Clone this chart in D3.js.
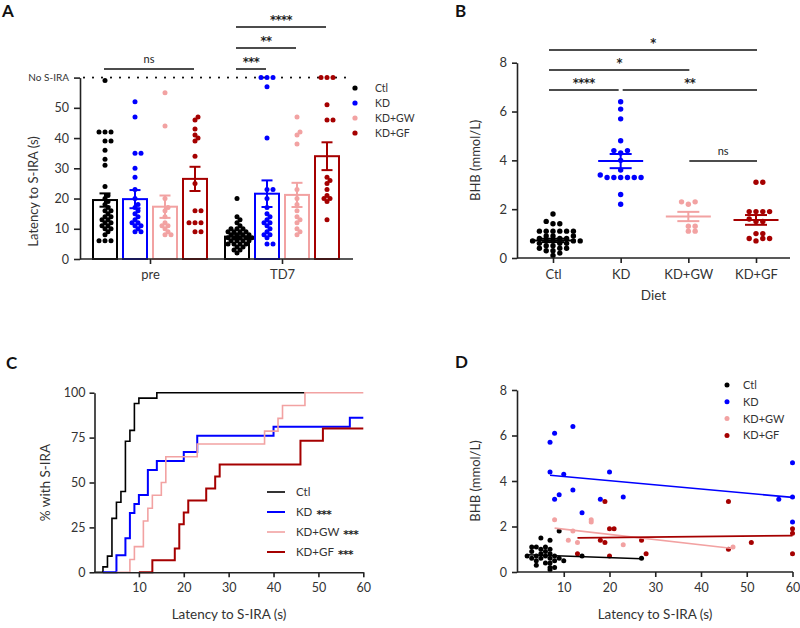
<!DOCTYPE html>
<html><head><meta charset="utf-8">
<script src="https://cdn.jsdelivr.net/npm/d3@7"></script>
<style>
body{margin:0;background:#fff;}
svg{display:block;font-family:Lato,"Open Sans",sans-serif;}
</style></head><body>
<svg id="c" width="800" height="628"></svg>
<script>
// ---------- shared ----------
const diets = ["Ctl", "KD", "KD+GW", "KD+GF"];
const dietColors = ["#000000", "#0000ff", "#f2a2a2", "#a50000"];
const timepoints = ["pre", "TD7"];

// ---------- Panel A : latency to S-IRA (s) ----------
const latPre_Ctl = [59,42,42,42,39,39,36,33,31,24,21,20,19,18,17,16,16,15,14,14,13,13,12,12,11,11,10,10,9,8,6,6,6];
const latPre_KD = [52,47,35,35,30,27,23,20,18,17,16,15,14,13,12,12,11,11,10,9,9];
const latPre_GW = [55,44,20,17,16,14,12,11,11,10,9,8,8];
const latPre_GF = [47,46,43,41,40,39,34,25,16,16,12,12,12,9,9];
const latTD7_Ctl = [20,14,13,12,11,10,10,10,9,9,9,9,8,8,8,8,7,7,7,7,7,6,6,6,6,5,5,5,5,4,4,3,3,2];
const latTD7_KD = [60,60,60,57,40,23,23,20,17,15,14,13,12,12,11,10,9,8,8,7,5,5];
const latTD7_GW = [47,42,41,38,23,20,18,16,14,13,12,10,9,8];
const latTD7_GF = [60,60,60,51,46,46,27,26,25,23,21,20,20,19,13];
const meanPre = [19.5, 19.8, 17.3, 26.5];
const semPre = [2.2, 3.0, 3.7, 4.0];
const meanTD7 = [7.4, 21.6, 21.2, 34.0];
const semTD7 = [0.9, 4.4, 4.0, 4.6];
const yTicksA = [0, 10, 20, 30, 40, 50, 60];
const noSiraLabel = "No S-IRA";
const sigA = [
  {tp: "pre", from: "Ctl", to: "KD+GF", label: "ns", level: 0},
  {tp: "TD7", from: "Ctl", to: "KD", label: "***", level: 0},
  {tp: "TD7", from: "Ctl", to: "KD+GW", label: "**", level: 1},
  {tp: "TD7", from: "Ctl", to: "KD+GF", label: "****", level: 2}
];

// ---------- Panel B : BHB (mmol/L) ----------
const bhb_Ctl = [1.8,1.5,1.4,1.4,1.1,1.1,1.1,1.1,1.1,1.1,0.9,0.9,0.9,0.8,0.8,0.8,0.7,0.7,0.7,0.7,0.7,0.6,0.6,0.6,0.5,0.5,0.4,0.4,0.4,0.3,0.3,0.2,0.1];
const bhb_KD = [6.4,6.1,5.7,4.8,4.4,4.4,4.3,4.0,3.6,3.4,3.3,3.3,3.3,3.3,3.3,3.3,2.6,2.2];
const bhb_GW = [2.3,2.3,2.2,1.3,1.3,1.1,1.1];
const bhb_GF = [3.1,3.1,1.9,1.9,1.9,1.9,1.6,1.5,1.5,1.0,1.0,0.8,0.8,0.8,0.7];
const bhbMean = [0.72, 3.97, 1.70, 1.56];
const bhbSem = [0.07, 0.29, 0.19, 0.20];
const yTicksB = [0, 2, 4, 6, 8];
const sigB = [
  {from: "Ctl", to: "KD+GF", label: "*", level: 3},
  {from: "Ctl", to: "KD+GW", label: "*", level: 2},
  {from: "Ctl", to: "KD", label: "****", level: 1},
  {from: "KD", to: "KD+GF", label: "**", level: 1},
  {from: "KD+GW", to: "KD+GF", label: "ns", level: 0}
];

// ---------- Panel C : cumulative % with S-IRA ----------
const kmStart = [0, 2, 5, 10];
const kmEnd = [47, 60, 60, 60];
const kmCtl_t = [2,3,4,5,6,7,8,9,10,14];
const kmCtl_p = [3,9,30,39,45,73,79,94,97,100];
const kmKD_t = [5,7,8,9,10,12,14,20,23,40,57];
const kmKD_p = [9.5,19,33,38,43,57,62,67,76,81,86];
const kmGW_t = [8,9,11,12,13,15,16,23,38,41,42,47];
const kmGW_p = [7.1,14.3,28.6,35.7,42.9,50,64.3,71.4,78.6,85.7,92.9,100];
const kmGF_t = [13,18,19,20,21,25,27,28,46,51];
const kmGF_p = [6.7,13.3,26.7,33.3,40,46.7,53.3,60,73.3,80];
const kmLegend = ["Ctl", "KD", "KD+GW", "KD+GF"];
const kmLegendSig = ["", "***", "***", "***"];
const xTicksC = [10, 20, 30, 40, 50, 60];
const yTicksC = [0, 25, 50, 75, 100];

// ---------- Panel D : BHB vs latency ----------
const sc_Ctl = [[2,0.7],[3,1.1],[4,1.1],[5,1.5],[7,1.4],[9,1.8],[3,0.9],[4,0.7],[4,0.5],[4,0.3],[5,0.8],[5,0.6],[5,1.0],[6,0.7],[6,0.9],[6,0.4],[6,1.1],[7,0.8],[7,0.6],[7,0.4],[7,1.0],[7,0.2],[8,0.7],[8,0.5],[8,0.2],[9,0.6],[10,0.5],[14,0.7],[27,0.6],[7,0.1],[3,0.6]];
const sc_KD = [[7,5.7],[8,6.1],[12,6.4],[7,4.4],[10,4.3],[20,4.4],[60,4.8],[12,3.6],[9,3.4],[8,3.2],[18,3.2],[23,3.3],[57,3.2],[60,3.3],[14,2.6],[60,2.2]];
const sc_GW = [[8,2.3],[16,2.3],[16,2.2],[12,1.8],[11,1.4],[13,1.3],[23,1.2],[47,1.1]];
const sc_GF = [[19,3.1],[46,3.1],[20,1.9],[21,1.9],[60,1.9],[60,1.7],[18,1.4],[19,1.3],[27,1.4],[51,1.3],[13,0.8],[20,0.7],[28,0.8],[46,1.0],[60,0.8]];
const fitD = [[2,0.76,27,0.58],[7,4.25,60,3.28],[8,1.93,47,1.03],[13,1.5,60,1.6]];
const xTicksD = [10, 20, 30, 40, 50, 60];
const yTicksD = [0, 2, 4, 6, 8];

// ================= drawing =================
const svg = d3.select("#c");
const AX = "#222", TX = "#333";
const STAR_FONT = "'DejaVu Sans', sans-serif";

function styleAxis(g, fs) {
  g.selectAll("path,line").attr("stroke", AX).attr("stroke-width", 1.6);
  g.selectAll("text").attr("fill", TX).style("font-size", fs + "px").style("font-family", "Lato, 'Open Sans', sans-serif");
}
function swarm(vals, cx, y, r, step, overlap) {
  const pts = vals.map(v => ({v, y: y(v)})).sort((a, b) => a.v - b.v);
  const placed = [];
  const minD = 2 * r * overlap;
  pts.forEach(p => {
    p.x = cx;
    for (let i = 0; i < 80; i++) {
      const o = i === 0 ? 0 : (i % 2 ? 1 : -1) * Math.ceil(i / 2) * step;
      const x = cx + o;
      if (placed.every(q => Math.hypot(q.x - x, q.y - p.y) >= minD)) { p.x = x; break; }
    }
    placed.push(p);
  });
  return placed;
}
function panelLabel(t, x, y) {
  svg.append("text").attr("x", x).attr("y", y).text(t)
    .style("font-size", "17px").style("font-weight", "bold").attr("fill", "#111");
}
function sigText(g, x, y, label) {
  const isNs = label === "ns";
  g.append("text").attr("x", x).attr("y", isNs ? y - 6 : y - 3).attr("text-anchor", "middle")
    .text(label)
    .style("font-family", isNs ? "Lato, sans-serif" : STAR_FONT)
    .style("font-size", isNs ? "11px" : "11.5px")
    .style("font-weight", isNs ? "normal" : "bold")
    .style("letter-spacing", isNs ? "0px" : "-0.5px")
    .attr("fill", "#222");
}

// ---------- Panel A ----------
{
  const g = svg.append("g");
  const xA = d3.scalePoint().domain(timepoints).range([84, 348]).padding(0.5);
  const xIn = d3.scaleBand().domain(diets).range([-60, 60]).paddingInner(0.2).paddingOuter(0.1);
  const yA = d3.scaleLinear().domain([0, 60]).range([259, 77.6]);
  const dataA = {pre: [latPre_Ctl, latPre_KD, latPre_GW, latPre_GF], TD7: [latTD7_Ctl, latTD7_KD, latTD7_GW, latTD7_GF]};
  const meansA = {pre: meanPre, TD7: meanTD7};
  const semsA = {pre: semPre, TD7: semTD7};

  g.append("line").attr("x1", 84).attr("x2", 352).attr("y1", yA(60)).attr("y2", yA(60))
    .attr("stroke", "#111").attr("stroke-width", 2.2).attr("stroke-dasharray", "0 9").attr("stroke-linecap", "round");

  timepoints.forEach(tp => {
    diets.forEach((d, i) => {
      const cx = xA(tp) + xIn(d) + xIn.bandwidth() / 2;
      const m = meansA[tp][i], s = semsA[tp][i];
      g.append("rect").attr("x", xA(tp) + xIn(d)).attr("width", xIn.bandwidth())
        .attr("y", yA(m)).attr("height", yA(0) - yA(m))
        .attr("fill", "none").attr("stroke", dietColors[i]).attr("stroke-width", 2);
      const pts = swarm(dataA[tp][i], cx, yA, 2.5, 3.0, 0.84);
      g.selectAll(null).data(pts).enter().append("circle")
        .attr("cx", p => p.x).attr("cy", p => p.y).attr("r", 2.5).attr("fill", dietColors[i]);
      g.append("line").attr("x1", cx).attr("x2", cx).attr("y1", yA(m - s)).attr("y2", yA(m + s))
        .attr("stroke", dietColors[i]).attr("stroke-width", 2);
      [m - s, m + s].forEach(v => g.append("line").attr("x1", cx - 5.5).attr("x2", cx + 5.5)
        .attr("y1", yA(v)).attr("y2", yA(v)).attr("stroke", dietColors[i]).attr("stroke-width", 2));
    });
  });

  const ya = g.append("g").attr("transform", "translate(80,0)")
    .call(d3.axisLeft(yA).tickValues(yTicksA).tickSize(6).tickPadding(5).tickSizeOuter(0)
      .tickFormat(v => v === 60 ? noSiraLabel : v));
  styleAxis(ya, 12.5);
  ya.selectAll(".tick").filter(v => v === 60).select("text").style("font-size", "10px");
  const xa = g.append("g").attr("transform", "translate(0,259)")
    .call(d3.axisBottom(xA).tickSize(5).tickPadding(6).tickSizeOuter(0));
  xa.select(".domain").remove();
  styleAxis(xa, 13);
  g.append("line").attr("x1", 80).attr("x2", 353).attr("y1", 259).attr("y2", 259).attr("stroke", AX).attr("stroke-width", 1.6);
  g.append("text").attr("transform", "translate(38," + ((yA(0) + yA(50)) / 2 + 8) + ") rotate(-90)")
    .attr("text-anchor", "middle").text("Latency to S-IRA (s)").style("font-size", "13px").attr("fill", TX);

  sigA.forEach(s => {
    const x1 = xA(s.tp) + xIn(s.from) + xIn.bandwidth() / 2 - 1;
    const x2 = xA(s.tp) + xIn(s.to) + xIn.bandwidth() / 2 - 1;
    const yy = yA(60) - 8.6 - s.level * 21;
    g.append("line").attr("x1", x1).attr("x2", x2).attr("y1", yy).attr("y2", yy).attr("stroke", "#111").attr("stroke-width", 1.5);
    sigText(g, (x1 + x2) / 2, yy, s.label);
  });

  diets.forEach((d, i) => {
    const yy = 88 + i * 15;
    g.append("circle").attr("cx", 355).attr("cy", yy).attr("r", 2.6).attr("fill", dietColors[i]);
    g.append("text").attr("x", 375).attr("y", yy + 4).text(d).style("font-size", "10.5px").attr("fill", TX);
  });
  panelLabel("A", 2, 17);
}

// ---------- Panel B ----------
{
  const g = svg.append("g");
  const xB = d3.scalePoint().domain(diets).range([553, 756]);
  const yB = d3.scaleLinear().domain([0, 8]).range([258, 62.7]);
  const dataB = [bhb_Ctl, bhb_KD, bhb_GW, bhb_GF];
  diets.forEach((d, i) => {
    const cx = xB(d);
    const pts = swarm(dataB[i], cx, yB, 2.7, 3.4, 0.88);
    g.selectAll(null).data(pts).enter().append("circle")
      .attr("cx", p => p.x).attr("cy", p => p.y).attr("r", 2.7).attr("fill", dietColors[i]);
    const m = bhbMean[i], s = bhbSem[i];
    g.append("line").attr("x1", cx - 22.5).attr("x2", cx + 22.5).attr("y1", yB(m)).attr("y2", yB(m)).attr("stroke", dietColors[i]).attr("stroke-width", 2);
    g.append("line").attr("x1", cx).attr("x2", cx).attr("y1", yB(m - s)).attr("y2", yB(m + s)).attr("stroke", dietColors[i]).attr("stroke-width", 2);
    [m - s, m + s].forEach(v => g.append("line").attr("x1", cx - 11).attr("x2", cx + 11)
      .attr("y1", yB(v)).attr("y2", yB(v)).attr("stroke", dietColors[i]).attr("stroke-width", 2));
  });
  const ya = g.append("g").attr("transform", "translate(517,0)")
    .call(d3.axisLeft(yB).tickValues(yTicksB).tickSize(5).tickPadding(5).tickSizeOuter(0));
  styleAxis(ya, 13);
  const xa = g.append("g").attr("transform", "translate(0,258)")
    .call(d3.axisBottom(xB).tickSize(5).tickPadding(7).tickSizeOuter(0));
  xa.select(".domain").remove();
  styleAxis(xa, 13);
  g.append("line").attr("x1", 517).attr("x2", 790).attr("y1", 258).attr("y2", 258).attr("stroke", AX).attr("stroke-width", 1.6);
  g.append("text").attr("transform", "translate(480," + yB(4) + ") rotate(-90)")
    .attr("text-anchor", "middle").text("BHB (mmol/L)").style("font-size", "13px").attr("fill", TX);
  g.append("text").attr("x", (517 + 790) / 2).attr("y", 300).attr("text-anchor", "middle")
    .text("Diet").style("font-size", "13.5px").attr("fill", TX);
  const levelY = [161, 90, 70, 50];
  sigB.forEach(s => {
    let x1 = xB(s.from) - 4, x2 = xB(s.to) + 1;
    if (s.from === "Ctl" && s.to === "KD") x2 = xB("KD") - 2;
    if (s.from === "KD") x1 = xB("KD") + 2;
    if (s.label === "ns") { x1 = xB(s.from) + 1; }
    const yy = levelY[s.level];
    g.append("line").attr("x1", x1).attr("x2", x2).attr("y1", yy).attr("y2", yy).attr("stroke", "#111").attr("stroke-width", 1.5);
    sigText(g, (x1 + x2) / 2, yy, s.label);
  });
  panelLabel("B", 455, 17);
}

// ---------- Panel C ----------
{
  const g = svg.append("g");
  const xC = d3.scaleLinear().domain([0, 60]).range([94, 363.3]);
  const yC = d3.scaleLinear().domain([0, 100]).range([572.3, 392.7]);
  const kmT = [kmCtl_t, kmKD_t, kmGW_t, kmGF_t];
  const kmP = [kmCtl_p, kmKD_p, kmGW_p, kmGF_p];
  const widths = [1.6, 2, 1.6, 2];
  const line = d3.line().x(d => xC(d[0])).y(d => yC(d[1])).curve(d3.curveStepAfter);
  diets.forEach((d, i) => {
    const pts = [[kmStart[i], 0]];
    kmT[i].forEach((t, j) => pts.push([t, kmP[i][j]]));
    pts.push([kmEnd[i], kmP[i][kmP[i].length - 1]]);
    g.append("path").attr("d", line(pts)).attr("fill", "none").attr("stroke", dietColors[i]).attr("stroke-width", widths[i]);
  });
  const ya = g.append("g").attr("transform", "translate(94.5,0)")
    .call(d3.axisLeft(yC).tickValues(yTicksC).tickSize(5).tickPadding(4).tickSizeOuter(0));
  styleAxis(ya, 12.5);
  const xa = g.append("g").attr("transform", "translate(0,572.3)")
    .call(d3.axisBottom(xC).tickValues(xTicksC).tickSize(5).tickPadding(6).tickSizeOuter(0));
  styleAxis(xa, 12.5);
  g.append("text").attr("transform", "translate(50," + yC(50) + ") rotate(-90)")
    .attr("text-anchor", "middle").text("% with S-IRA").style("font-size", "13.5px").attr("fill", TX);
  g.append("text").attr("x", 229).attr("y", 619).attr("text-anchor", "middle")
    .text("Latency to S-IRA (s)").style("font-size", "13.5px").attr("fill", TX);
  kmLegend.forEach((t, i) => {
    const yy = 492 + i * 20;
    g.append("line").attr("x1", 267).attr("x2", 285).attr("y1", yy).attr("y2", yy).attr("stroke", dietColors[i]).attr("stroke-width", widths[i]);
    const tx = g.append("text").attr("x", 296).attr("y", yy + 4).style("font-size", "11.5px").attr("fill", TX);
    tx.append("tspan").text(t);
    if (kmLegendSig[i]) tx.append("tspan").attr("dx", 4).attr("dy", 2).text(kmLegendSig[i])
      .style("font-family", STAR_FONT).style("font-weight", "bold").style("font-size", "10.5px").style("letter-spacing", "-0.5px").attr("fill", "#222");
  });
  panelLabel("C", 6, 369);
}

// ---------- Panel D ----------
{
  const g = svg.append("g");
  const xD = d3.scaleLinear().domain([0, 60]).range([518, 792.5]);
  const yD = d3.scaleLinear().domain([0, 8]).range([572, 390]);
  const sc = [sc_Ctl, sc_KD, sc_GW, sc_GF];
  const order = [2, 1, 3, 0];
  order.forEach(i => {
    g.selectAll(null).data(sc[i]).enter().append("circle")
      .attr("cx", p => xD(p[0])).attr("cy", p => yD(p[1])).attr("r", 2.5).attr("fill", dietColors[i]);
  });
  order.forEach(i => {
    const f = fitD[i];
    g.append("line").attr("x1", xD(f[0])).attr("y1", yD(f[1])).attr("x2", xD(f[2])).attr("y2", yD(f[3]))
      .attr("stroke", dietColors[i]).attr("stroke-width", 1.6);
  });
  const ya = g.append("g").attr("transform", "translate(517,0)")
    .call(d3.axisLeft(yD).tickValues(yTicksD).tickSize(5).tickPadding(5).tickSizeOuter(0));
  styleAxis(ya, 12.5);
  const xa = g.append("g").attr("transform", "translate(0,572)")
    .call(d3.axisBottom(xD).tickValues(xTicksD).tickSize(5).tickPadding(6).tickSizeOuter(0));
  xa.select(".domain").remove();
  styleAxis(xa, 12.5);
  g.append("line").attr("x1", 517).attr("x2", 793).attr("y1", 572).attr("y2", 572).attr("stroke", AX).attr("stroke-width", 1.6);
  g.append("text").attr("transform", "translate(480," + yD(4) + ") rotate(-90)")
    .attr("text-anchor", "middle").text("BHB (mmol/L)").style("font-size", "13px").attr("fill", TX);
  g.append("text").attr("x", 655).attr("y", 619).attr("text-anchor", "middle")
    .text("Latency to S-IRA (s)").style("font-size", "13.5px").attr("fill", TX);
  diets.forEach((d, i) => {
    const yy = 385 + i * 16.8;
    g.append("circle").attr("cx", 727).attr("cy", yy).attr("r", 2.5).attr("fill", dietColors[i]);
    g.append("text").attr("x", 743).attr("y", yy + 4).text(d).style("font-size", "11px").attr("fill", TX);
  });
  panelLabel("D", 455, 368);
}
</script>
</body></html>
